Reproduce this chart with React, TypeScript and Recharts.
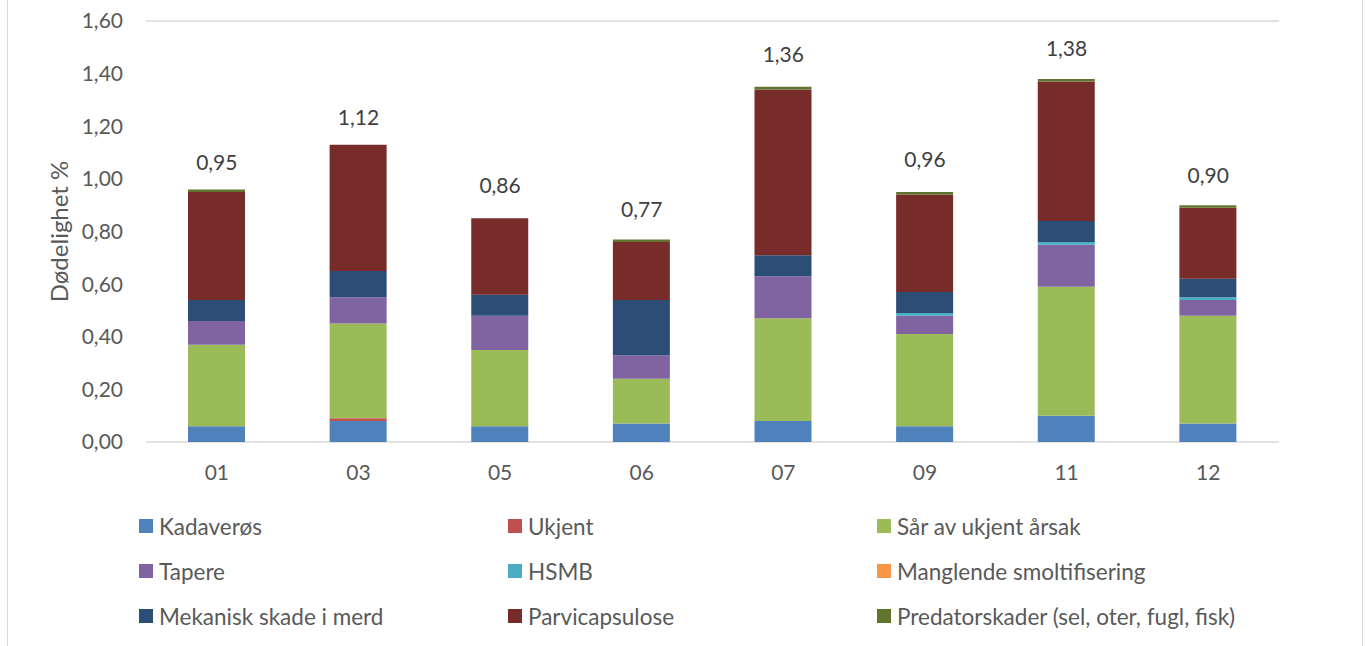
import { Bar, CartesianGrid, ComposedChart, Line, XAxis, YAxis } from "recharts"

const regions = ["01", "03", "05", "06", "07", "09", "11", "12"]

const kadaveros = [0.06, 0.08, 0.06, 0.07, 0.08, 0.06, 0.1, 0.07]
const ukjent = [0, 0.01, 0, 0, 0, 0, 0, 0]
const sarUkjent = [0.31, 0.36, 0.29, 0.17, 0.39, 0.35, 0.49, 0.41]
const tapere = [0.09, 0.1, 0.13, 0.09, 0.16, 0.07, 0.16, 0.06]
const hsmb = [0, 0, 0, 0, 0, 0.01, 0.01, 0.01]
const manglendeSmolt = [0, 0, 0, 0, 0, 0, 0, 0]
const mekanisk = [0.08, 0.1, 0.08, 0.21, 0.08, 0.08, 0.08, 0.07]
const parvicapsulose = [0.41, 0.48, 0.29, 0.22, 0.63, 0.37, 0.53, 0.27]
const predator = [0.01, 0, 0, 0.01, 0.01, 0.01, 0.01, 0.01]
const totals = [0.95, 1.12, 0.86, 0.77, 1.36, 0.96, 1.38, 0.9]

const yTicks = [0, 0.2, 0.4, 0.6, 0.8, 1.0, 1.2, 1.4, 1.6]

const series = [
  { key: "kadaveros", name: "Kadaverøs", color: "#4f81bd", values: kadaveros },
  { key: "ukjent", name: "Ukjent", color: "#c0504d", values: ukjent },
  { key: "sar", name: "Sår av ukjent årsak", color: "#9bbb59", values: sarUkjent },
  { key: "tapere", name: "Tapere", color: "#8064a2", values: tapere },
  { key: "hsmb", name: "HSMB", color: "#4bacc6", values: hsmb },
  { key: "manglende", name: "Manglende smoltifisering", color: "#f79646", values: manglendeSmolt },
  { key: "mekanisk", name: "Mekanisk skade i merd", color: "#2c4d75", values: mekanisk },
  { key: "parvi", name: "Parvicapsulose", color: "#772c2a", values: parvicapsulose },
  { key: "predator", name: "Predatorskader (sel, oter, fugl, fisk)", color: "#5f7530", values: predator },
]

const data = regions.map((region, i) => {
  const row: Record<string, string | number> = { region, total: totals[i] }
  series.forEach((s) => {
    row[s.key] = s.values[i]
  })
  return row
})

const font = "Lato, 'Open Sans', sans-serif"
const fmt = (v: number) => v.toFixed(2).replace(".", ",")

const tickStyle = { fill: "#595959", fontSize: 21, fontFamily: font }

function TotalLabel(props: any) {
  const { x, y, value } = props
  if (x == null || y == null) return null
  return (
    <text x={x} y={y - 31} textAnchor="middle" dominantBaseline="central" fill="#404040" fontSize={21} fontFamily={font}>
      {fmt(value)}
    </text>
  )
}

export default function App() {
  return (
    <div style={{ position: "absolute", left: 0, top: 0, width: 1367, height: 646, background: "#fff", overflow: "hidden" }}>
      <div
        style={{
          position: "absolute",
          left: 7,
          top: -2,
          width: 1354,
          height: 660,
          borderLeft: "1.5px solid #d9d9d9",
          borderRight: "1.5px solid #d9d9d9",
        }}
      />
      <ComposedChart width={1367} height={500} data={data} margin={{ top: 21, right: 0, left: 0, bottom: 0 }}>
        <CartesianGrid horizontal vertical={false} stroke="#d9d9d9" strokeWidth={1.5} />
        <XAxis
          dataKey="region"
          height={58}
          axisLine={false}
          tickLine={false}
          tickSize={0}
          tickMargin={23}
          tick={tickStyle}
        />
        <YAxis
          yAxisId="left"
          width={146}
          domain={[0, 1.6]}
          ticks={yTicks}
          tickFormatter={fmt}
          axisLine={false}
          tickLine={false}
          tickSize={0}
          tickMargin={23}
          tick={tickStyle}
          label={{
            value: "Dødelighet %",
            angle: -90,
            position: "insideLeft",
            offset: 59,
            style: { fill: "#595959", fontSize: 24, fontFamily: font, textAnchor: "middle" },
          }}
        />
        <YAxis
          yAxisId="right"
          orientation="right"
          width={88}
          domain={[0, 1.6]}
          ticks={yTicks}
          tickFormatter={fmt}
          axisLine={false}
          tickLine={false}
          tickSize={0}
          tickMargin={23}
          tick={{ ...tickStyle, textAnchor: "start" }}
        />
        {series.map((s) => (
          <Bar
            key={s.key}
            yAxisId="left"
            dataKey={s.key}
            name={s.name}
            stackId="a"
            fill={s.color}
            barSize={57}
            isAnimationActive={false}
          />
        ))}
        <Line
          yAxisId="left"
          dataKey="total"
          stroke="none"
          dot={false}
          activeDot={false}
          label={<TotalLabel />}
          isAnimationActive={false}
        />
      </ComposedChart>
      {series.map((s, i) => {
        const col = i % 3
        const row = Math.floor(i / 3)
        return (
          <div
            key={s.key}
            style={{
              position: "absolute",
              left: 139 + col * 369,
              top: 526 + row * 45 - 14,
              height: 28,
              display: "flex",
              alignItems: "center",
              fontFamily: font,
              fontSize: 22.5,
              color: "#595959",
              whiteSpace: "nowrap",
            }}
          >
            <span style={{ display: "inline-block", width: 14, height: 14, background: s.color, marginRight: 6 }} />
            {s.name}
          </div>
        )
      })}
    </div>
  )
}
